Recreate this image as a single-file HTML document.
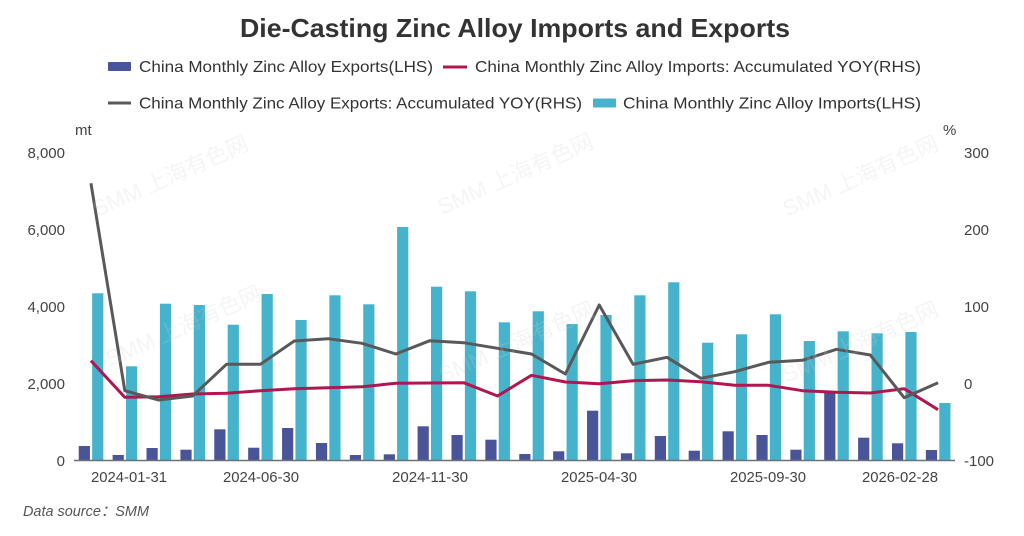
<!DOCTYPE html>
<html><head><meta charset="utf-8"><style>
html,body{margin:0;padding:0;background:#fff;}
svg{display:block;}
text{font-family:"Liberation Sans","Noto Sans CJK SC",sans-serif;}
</style></head><body>
<svg width="1024" height="536" viewBox="0 0 1024 536" xmlns="http://www.w3.org/2000/svg">
<rect width="1024" height="536" fill="#fff"/>
<!-- title -->
<text x="240" y="37" font-size="26" font-weight="bold" fill="#333" textLength="550" lengthAdjust="spacingAndGlyphs">Die-Casting Zinc Alloy Imports and Exports</text>
<!-- legend -->
<rect x="108" y="62" width="23" height="9" rx="1" fill="#4a5599"/>
<text x="139" y="72" font-size="16" fill="#333" textLength="294" lengthAdjust="spacingAndGlyphs">China Monthly Zinc Alloy Exports(LHS)</text>
<line x1="443" y1="67" x2="467" y2="67" stroke="#b0164f" stroke-width="3"/>
<text x="475" y="72" font-size="16" fill="#333" textLength="446" lengthAdjust="spacingAndGlyphs">China Monthly Zinc Alloy Imports: Accumulated YOY(RHS)</text>
<line x1="108" y1="103" x2="131" y2="103" stroke="#595959" stroke-width="3"/>
<text x="139" y="108.5" font-size="16" fill="#333" textLength="443" lengthAdjust="spacingAndGlyphs">China Monthly Zinc Alloy Exports: Accumulated YOY(RHS)</text>
<rect x="593" y="98.5" width="23" height="9" rx="1" fill="#45b3cb"/>
<text x="623" y="108.5" font-size="16" fill="#333" textLength="298" lengthAdjust="spacingAndGlyphs">China Monthly Zinc Alloy Imports(LHS)</text>
<!-- axis names -->
<text x="75" y="135" font-size="15" fill="#444">mt</text>
<text x="943" y="135" font-size="15" fill="#444">%</text>
<!-- left labels -->
<g font-size="15" fill="#444" text-anchor="end">
<text x="65" y="158">8,000</text>
<text x="65" y="235">6,000</text>
<text x="65" y="312">4,000</text>
<text x="65" y="389">2,000</text>
<text x="65" y="466">0</text>
</g>
<g font-size="15" fill="#444">
<text x="964" y="158">300</text>
<text x="964" y="235">200</text>
<text x="964" y="312">100</text>
<text x="964" y="389">0</text>
<text x="964" y="466">-100</text>
</g>
<!-- x labels -->
<g font-size="15" fill="#444" text-anchor="middle">
<text x="129" y="482" textLength="76" lengthAdjust="spacingAndGlyphs">2024-01-31</text>
<text x="261" y="482" textLength="76" lengthAdjust="spacingAndGlyphs">2024-06-30</text>
<text x="430" y="482" textLength="76" lengthAdjust="spacingAndGlyphs">2024-11-30</text>
<text x="599" y="482" textLength="76" lengthAdjust="spacingAndGlyphs">2025-04-30</text>
<text x="768" y="482" textLength="76" lengthAdjust="spacingAndGlyphs">2025-09-30</text>
<text x="900" y="482" textLength="76" lengthAdjust="spacingAndGlyphs">2026-02-28</text>
</g>
<!-- bars: exports (dark) -->
<g fill="#4a5599">
<rect x="78.74" y="446" width="11.2" height="14"/>
<rect x="112.63" y="455" width="11.2" height="5"/>
<rect x="146.51" y="448" width="11.2" height="12"/>
<rect x="180.40" y="449.7" width="11.2" height="10.3"/>
<rect x="214.28" y="429.3" width="11.2" height="30.7"/>
<rect x="248.17" y="447.7" width="11.2" height="12.3"/>
<rect x="282.05" y="428" width="11.2" height="32"/>
<rect x="315.94" y="443" width="11.2" height="17"/>
<rect x="349.82" y="455" width="11.2" height="5"/>
<rect x="383.71" y="454.3" width="11.2" height="5.7"/>
<rect x="417.59" y="426.3" width="11.2" height="33.7"/>
<rect x="451.48" y="435" width="11.2" height="25"/>
<rect x="485.36" y="439.7" width="11.2" height="20.3"/>
<rect x="519.25" y="454" width="11.2" height="6"/>
<rect x="553.13" y="451.3" width="11.2" height="8.7"/>
<rect x="587.02" y="410.7" width="11.2" height="49.3"/>
<rect x="620.90" y="453.3" width="11.2" height="6.7"/>
<rect x="654.79" y="436" width="11.2" height="24"/>
<rect x="688.67" y="450.7" width="11.2" height="9.3"/>
<rect x="722.56" y="431.3" width="11.2" height="28.7"/>
<rect x="756.44" y="435" width="11.2" height="25"/>
<rect x="790.33" y="449.7" width="11.2" height="10.3"/>
<rect x="824.21" y="391.7" width="11.2" height="68.3"/>
<rect x="858.10" y="437.7" width="11.2" height="22.3"/>
<rect x="891.98" y="443.3" width="11.2" height="16.7"/>
<rect x="925.87" y="450" width="11.2" height="10"/>
</g>
<!-- bars: imports (cyan) -->
<g fill="#45b3cb">
<rect x="92.14" y="293.3" width="11.2" height="166.7"/>
<rect x="126.03" y="366.3" width="11.2" height="93.7"/>
<rect x="159.91" y="303.7" width="11.2" height="156.3"/>
<rect x="193.80" y="305" width="11.2" height="155"/>
<rect x="227.68" y="324.7" width="11.2" height="135.3"/>
<rect x="261.57" y="294" width="11.2" height="166"/>
<rect x="295.45" y="320" width="11.2" height="140"/>
<rect x="329.34" y="295.3" width="11.2" height="164.7"/>
<rect x="363.22" y="304.3" width="11.2" height="155.7"/>
<rect x="397.11" y="227" width="11.2" height="233"/>
<rect x="430.99" y="286.7" width="11.2" height="173.3"/>
<rect x="464.88" y="291.3" width="11.2" height="168.7"/>
<rect x="498.76" y="322.3" width="11.2" height="137.7"/>
<rect x="532.65" y="311.3" width="11.2" height="148.7"/>
<rect x="566.53" y="324" width="11.2" height="136"/>
<rect x="600.42" y="315" width="11.2" height="145"/>
<rect x="634.30" y="295.3" width="11.2" height="164.7"/>
<rect x="668.19" y="282.3" width="11.2" height="177.7"/>
<rect x="702.07" y="342.7" width="11.2" height="117.3"/>
<rect x="735.96" y="334.3" width="11.2" height="125.7"/>
<rect x="769.84" y="314.3" width="11.2" height="145.7"/>
<rect x="803.73" y="341" width="11.2" height="119"/>
<rect x="837.61" y="331.3" width="11.2" height="128.7"/>
<rect x="871.50" y="333.3" width="11.2" height="126.7"/>
<rect x="905.38" y="332" width="11.2" height="128"/>
<rect x="939.27" y="403" width="11.2" height="57"/>
</g>
<!-- x axis line -->
<line x1="74" y1="460.5" x2="955" y2="460.5" stroke="#6e7079" stroke-width="1.5"/>
<!-- red line: imports YOY -->
<polyline fill="none" stroke="#b0164f" stroke-width="3" stroke-linejoin="round" points="90.94,360.7 124.83,397.3 158.71,396.7 192.60,394 226.48,393.3 260.37,390.7 294.25,388.7 328.14,387.7 362.02,386.7 395.91,383.3 429.79,383 463.68,382.7 497.56,396 531.45,375.3 565.33,382 599.22,383.7 633.10,380.7 666.99,380 700.87,381.7 734.76,385.3 768.64,385.3 802.53,390.7 836.41,392.3 870.30,393 904.18,388.7 938.07,409.7"/>
<!-- gray line: exports YOY -->
<polyline fill="none" stroke="#595959" stroke-width="3" stroke-linejoin="round" points="90.94,183.3 124.83,390.7 158.71,400 192.60,396 226.48,364.3 260.37,364.3 294.25,341 328.14,338.7 362.02,343.3 395.91,354 429.79,340.7 463.68,342.7 497.56,348.3 531.45,354 565.33,374 599.22,305 633.10,364.3 666.99,357.3 700.87,378.3 734.76,371.7 768.64,362.3 802.53,360.3 836.41,349.3 870.30,355 904.18,397.7 938.07,382.7"/>
<!-- watermarks -->
<g font-size="22" fill="#cfcfcf" opacity="0.22">
<text transform="translate(97,217) rotate(-24)">SMM 上海有色网</text>
<text transform="translate(442,215) rotate(-24)">SMM 上海有色网</text>
<text transform="translate(787,217) rotate(-24)">SMM 上海有色网</text>
<text transform="translate(110,367) rotate(-24)">SMM 上海有色网</text>
<text transform="translate(443,383) rotate(-24)">SMM 上海有色网</text>
<text transform="translate(787,383) rotate(-24)">SMM 上海有色网</text>
</g>
<!-- data source -->
<text x="23" y="516" font-size="15" font-style="italic" fill="#555" textLength="126" lengthAdjust="spacingAndGlyphs">Data source：SMM</text>
</svg>
</body></html>
